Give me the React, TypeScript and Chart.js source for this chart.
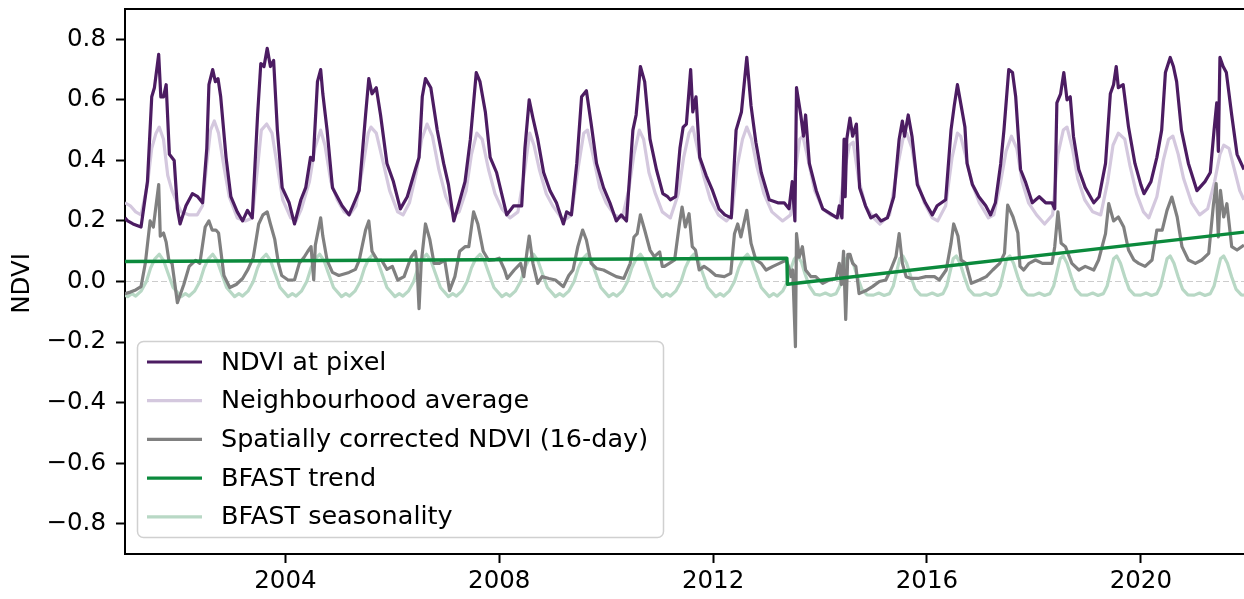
import { useEffect, useRef } from 'react';
import { Chart, registerables } from 'chart.js';

Chart.register(...registerables);

// ---- axis settings -------------------------------------------------------
const X_MIN = 2001.0;
const X_MAX = 2021.93;
const Y_MIN = -0.9;
const Y_MAX = 0.9;
const X_TICKS = [2004, 2008, 2012, 2016, 2020];
const Y_TICKS = [-0.8, -0.6, -0.4, -0.2, 0, 0.2, 0.4, 0.6, 0.8];

const SERIES_LABELS = [
  'NDVI at pixel',
  'Neighbourhood average',
  'Spatially corrected NDVI (16-day)',
  'BFAST trend',
  'BFAST seasonality',
];

// ---- series: [decimal year, NDVI] ------------------------------------------
const NDVI_PIXEL: [number, number][] = [
  [2001.0, 0.21], [2001.05, 0.2], [2001.15, 0.19], [2001.3, 0.18], [2001.42, 0.33], [2001.5, 0.61], [2001.55, 0.64],
  [2001.63, 0.75], [2001.67, 0.61], [2001.72, 0.61], [2001.77, 0.65], [2001.83, 0.42], [2001.92, 0.4], [2001.98, 0.24],
  [2002.03, 0.19], [2002.14, 0.25], [2002.26, 0.29], [2002.36, 0.28], [2002.45, 0.26], [2002.53, 0.44], [2002.57, 0.65],
  [2002.64, 0.7], [2002.69, 0.66], [2002.74, 0.67], [2002.79, 0.61], [2002.89, 0.41], [2002.98, 0.28], [2003.1, 0.23],
  [2003.2, 0.2], [2003.29, 0.235], [2003.38, 0.21], [2003.48, 0.55], [2003.54, 0.72], [2003.6, 0.71], [2003.66, 0.77],
  [2003.72, 0.71], [2003.78, 0.73], [2003.85, 0.5], [2003.94, 0.31], [2004.07, 0.26], [2004.17, 0.19], [2004.29, 0.27],
  [2004.38, 0.31], [2004.47, 0.41], [2004.52, 0.4], [2004.6, 0.66], [2004.66, 0.7], [2004.7, 0.62], [2004.78, 0.5],
  [2004.88, 0.31], [2004.97, 0.28], [2005.06, 0.25], [2005.19, 0.22], [2005.31, 0.27], [2005.38, 0.3], [2005.5, 0.55],
  [2005.56, 0.67], [2005.62, 0.62], [2005.7, 0.64], [2005.78, 0.55], [2005.9, 0.39], [2006.02, 0.33], [2006.15, 0.24],
  [2006.28, 0.28], [2006.43, 0.37], [2006.5, 0.41], [2006.56, 0.61], [2006.62, 0.67], [2006.72, 0.64], [2006.84, 0.5],
  [2006.96, 0.39], [2007.05, 0.32], [2007.15, 0.2], [2007.25, 0.26], [2007.36, 0.33], [2007.46, 0.47], [2007.57, 0.69],
  [2007.64, 0.66], [2007.74, 0.56], [2007.83, 0.41], [2007.95, 0.36], [2008.14, 0.22], [2008.27, 0.25], [2008.42, 0.25],
  [2008.48, 0.44], [2008.56, 0.6], [2008.63, 0.54], [2008.72, 0.47], [2008.83, 0.36], [2008.95, 0.3], [2009.07, 0.26],
  [2009.2, 0.19], [2009.26, 0.23], [2009.35, 0.22], [2009.45, 0.39], [2009.54, 0.61], [2009.63, 0.63], [2009.72, 0.52],
  [2009.82, 0.39], [2009.95, 0.31], [2010.07, 0.26], [2010.19, 0.2], [2010.28, 0.22], [2010.38, 0.2], [2010.5, 0.5],
  [2010.56, 0.55], [2010.64, 0.71], [2010.72, 0.66], [2010.82, 0.47], [2010.94, 0.37], [2011.06, 0.29], [2011.15, 0.28],
  [2011.2, 0.27], [2011.3, 0.28], [2011.38, 0.44], [2011.44, 0.51], [2011.5, 0.52], [2011.58, 0.7], [2011.62, 0.56],
  [2011.68, 0.61], [2011.75, 0.41], [2011.87, 0.35], [2011.99, 0.3], [2012.11, 0.24], [2012.22, 0.22], [2012.34, 0.21],
  [2012.43, 0.5], [2012.53, 0.56], [2012.63, 0.74], [2012.71, 0.58], [2012.8, 0.46], [2012.9, 0.36], [2013.05, 0.27],
  [2013.21, 0.26], [2013.33, 0.26], [2013.42, 0.24], [2013.48, 0.33], [2013.53, 0.2], [2013.56, 0.64], [2013.64, 0.55],
  [2013.69, 0.48], [2013.73, 0.55], [2013.8, 0.39], [2013.93, 0.3], [2014.05, 0.24], [2014.23, 0.22], [2014.32, 0.21],
  [2014.36, 0.25], [2014.41, 0.21], [2014.45, 0.47], [2014.47, 0.28], [2014.5, 0.47], [2014.56, 0.54], [2014.61, 0.48],
  [2014.68, 0.52], [2014.74, 0.31], [2014.85, 0.25], [2014.95, 0.21], [2015.05, 0.22], [2015.14, 0.2], [2015.26, 0.21],
  [2015.38, 0.28], [2015.48, 0.47], [2015.54, 0.53], [2015.58, 0.48], [2015.65, 0.55], [2015.72, 0.48], [2015.82, 0.32],
  [2015.97, 0.26], [2016.1, 0.22], [2016.19, 0.25], [2016.35, 0.27], [2016.45, 0.5], [2016.51, 0.58], [2016.57, 0.65],
  [2016.64, 0.58], [2016.71, 0.51], [2016.75, 0.39], [2016.85, 0.32], [2016.97, 0.28], [2017.1, 0.25], [2017.19, 0.22],
  [2017.28, 0.26], [2017.38, 0.39], [2017.44, 0.5], [2017.53, 0.7], [2017.6, 0.69], [2017.66, 0.61], [2017.75, 0.37],
  [2017.84, 0.33], [2017.97, 0.26], [2018.1, 0.28], [2018.22, 0.26], [2018.34, 0.26], [2018.39, 0.24], [2018.43, 0.59],
  [2018.5, 0.62], [2018.56, 0.69], [2018.62, 0.6], [2018.68, 0.61], [2018.74, 0.48], [2018.84, 0.37], [2018.96, 0.31],
  [2019.12, 0.26], [2019.22, 0.28], [2019.34, 0.39], [2019.43, 0.62], [2019.49, 0.65], [2019.54, 0.71], [2019.58, 0.64],
  [2019.67, 0.65], [2019.77, 0.51], [2019.89, 0.39], [2020.0, 0.32], [2020.06, 0.29], [2020.19, 0.33], [2020.3, 0.41],
  [2020.39, 0.5], [2020.46, 0.69], [2020.55, 0.74], [2020.61, 0.71], [2020.67, 0.66], [2020.76, 0.5], [2020.89, 0.39],
  [2021.05, 0.3], [2021.2, 0.33], [2021.3, 0.36], [2021.37, 0.5], [2021.42, 0.59], [2021.45, 0.43], [2021.48, 0.74],
  [2021.54, 0.71], [2021.6, 0.69], [2021.7, 0.55], [2021.8, 0.42], [2021.93, 0.37],
];

const NEIGHBOURHOOD_AVG: [number, number][] = [
  [2001.0, 0.26], [2001.1, 0.25], [2001.2, 0.23], [2001.3, 0.22], [2001.42, 0.32], [2001.5, 0.44], [2001.58, 0.49],
  [2001.64, 0.51], [2001.72, 0.47], [2001.8, 0.35], [2001.88, 0.3], [2001.97, 0.26], [2002.05, 0.23], [2002.2, 0.22],
  [2002.35, 0.22], [2002.45, 0.25], [2002.53, 0.39], [2002.6, 0.5], [2002.67, 0.53], [2002.75, 0.49], [2002.85, 0.38],
  [2002.95, 0.28], [2003.1, 0.21], [2003.25, 0.2], [2003.38, 0.21], [2003.47, 0.36], [2003.55, 0.5], [2003.65, 0.52],
  [2003.75, 0.49], [2003.85, 0.38], [2003.95, 0.27], [2004.1, 0.21], [2004.2, 0.2], [2004.3, 0.24], [2004.45, 0.33],
  [2004.55, 0.44], [2004.66, 0.5], [2004.74, 0.45], [2004.85, 0.33], [2004.97, 0.27], [2005.1, 0.23], [2005.2, 0.22],
  [2005.32, 0.25], [2005.45, 0.38], [2005.55, 0.49], [2005.6, 0.51], [2005.7, 0.49], [2005.82, 0.4], [2005.95, 0.3],
  [2006.1, 0.23], [2006.2, 0.22], [2006.32, 0.26], [2006.45, 0.36], [2006.55, 0.47], [2006.65, 0.52], [2006.75, 0.48],
  [2006.87, 0.37], [2007.0, 0.28], [2007.15, 0.22], [2007.25, 0.23], [2007.38, 0.3], [2007.48, 0.42], [2007.58, 0.49],
  [2007.68, 0.47], [2007.8, 0.37], [2007.92, 0.29], [2008.05, 0.24], [2008.2, 0.21], [2008.35, 0.23], [2008.47, 0.36],
  [2008.57, 0.49], [2008.65, 0.45], [2008.75, 0.37], [2008.88, 0.29], [2009.0, 0.25], [2009.2, 0.2], [2009.35, 0.22],
  [2009.48, 0.38], [2009.58, 0.49], [2009.65, 0.5], [2009.75, 0.42], [2009.88, 0.31], [2010.0, 0.26], [2010.15, 0.22],
  [2010.3, 0.21], [2010.42, 0.3], [2010.52, 0.42], [2010.62, 0.5], [2010.7, 0.47], [2010.8, 0.36], [2010.92, 0.29],
  [2011.05, 0.23], [2011.2, 0.21], [2011.35, 0.29], [2011.45, 0.41], [2011.55, 0.49], [2011.62, 0.51], [2011.72, 0.43],
  [2011.82, 0.35], [2011.95, 0.27], [2012.1, 0.22], [2012.25, 0.2], [2012.35, 0.22], [2012.45, 0.38], [2012.55, 0.47],
  [2012.63, 0.51], [2012.72, 0.47], [2012.82, 0.38], [2012.95, 0.29], [2013.1, 0.23], [2013.3, 0.2], [2013.45, 0.22],
  [2013.55, 0.38], [2013.62, 0.47], [2013.68, 0.48], [2013.78, 0.4], [2013.9, 0.3], [2014.05, 0.24], [2014.2, 0.22],
  [2014.35, 0.21], [2014.45, 0.36], [2014.55, 0.45], [2014.62, 0.46], [2014.72, 0.34], [2014.85, 0.25], [2015.0, 0.21],
  [2015.12, 0.19], [2015.3, 0.22], [2015.45, 0.38], [2015.55, 0.47], [2015.62, 0.49], [2015.72, 0.44], [2015.82, 0.33],
  [2015.95, 0.26], [2016.1, 0.21], [2016.2, 0.2], [2016.35, 0.25], [2016.47, 0.41], [2016.57, 0.49], [2016.63, 0.48],
  [2016.73, 0.41], [2016.85, 0.32], [2016.98, 0.26], [2017.15, 0.21], [2017.25, 0.22], [2017.38, 0.33], [2017.48, 0.43],
  [2017.58, 0.48], [2017.68, 0.44], [2017.78, 0.33], [2017.9, 0.26], [2018.05, 0.22], [2018.2, 0.19], [2018.35, 0.22],
  [2018.45, 0.42], [2018.55, 0.5], [2018.62, 0.51], [2018.72, 0.44], [2018.82, 0.34], [2018.95, 0.27], [2019.1, 0.23],
  [2019.25, 0.22], [2019.38, 0.33], [2019.48, 0.45], [2019.58, 0.49], [2019.7, 0.47], [2019.8, 0.38], [2019.92, 0.29],
  [2020.05, 0.23], [2020.15, 0.21], [2020.3, 0.28], [2020.42, 0.4], [2020.52, 0.47], [2020.6, 0.48], [2020.7, 0.42],
  [2020.8, 0.34], [2020.95, 0.26], [2021.1, 0.22], [2021.25, 0.24], [2021.38, 0.33], [2021.48, 0.42], [2021.55, 0.45],
  [2021.65, 0.44], [2021.75, 0.37], [2021.85, 0.3], [2021.93, 0.27],
];

const CORRECTED_NDVI: [number, number][] = [
  [2001.0, -0.04], [2001.1, -0.035], [2001.2, -0.028], [2001.3, -0.017], [2001.38, 0.06], [2001.47, 0.2], [2001.53, 0.18],
  [2001.63, 0.32], [2001.66, 0.15], [2001.72, 0.16], [2001.77, 0.13], [2001.82, 0.07], [2001.88, 0.06], [2001.98, -0.07],
  [2002.1, -0.01], [2002.2, 0.05], [2002.32, 0.07], [2002.4, 0.06], [2002.5, 0.18], [2002.57, 0.2], [2002.63, 0.17],
  [2002.7, 0.17], [2002.75, 0.16], [2002.85, 0.02], [2002.96, -0.02], [2003.08, -0.01], [2003.2, 0.01], [2003.3, 0.04],
  [2003.4, 0.08], [2003.5, 0.19], [2003.58, 0.22], [2003.66, 0.23], [2003.72, 0.19], [2003.8, 0.14], [2003.87, 0.06],
  [2003.93, 0.02], [2004.05, 0.005], [2004.17, 0.005], [2004.26, 0.06], [2004.35, 0.08], [2004.42, 0.1], [2004.48, 0.115],
  [2004.53, 0.005], [2004.56, 0.12], [2004.66, 0.21], [2004.7, 0.15], [2004.78, 0.07], [2004.88, 0.03], [2005.0, 0.02],
  [2005.19, 0.03], [2005.31, 0.04], [2005.38, 0.07], [2005.5, 0.17], [2005.56, 0.2], [2005.62, 0.1], [2005.72, 0.07],
  [2005.8, 0.07], [2005.9, 0.04], [2006.0, 0.05], [2006.1, 0.005], [2006.22, 0.016], [2006.35, 0.08], [2006.43, 0.1],
  [2006.46, 0.06], [2006.5, -0.09], [2006.54, 0.06], [2006.62, 0.19], [2006.7, 0.14], [2006.78, 0.06], [2006.88, 0.06],
  [2006.98, 0.07], [2007.07, -0.03], [2007.17, 0.016], [2007.26, 0.1], [2007.36, 0.115], [2007.43, 0.115], [2007.52, 0.23],
  [2007.6, 0.19], [2007.7, 0.1], [2007.8, 0.07], [2007.9, 0.071], [2008.0, 0.077], [2008.1, 0.038], [2008.15, 0.01],
  [2008.28, 0.038], [2008.4, 0.06], [2008.46, 0.016], [2008.52, 0.1], [2008.56, 0.15], [2008.63, 0.06], [2008.72, -0.006],
  [2008.8, 0.016], [2008.93, 0.01], [2009.05, 0.005], [2009.2, -0.017], [2009.3, 0.02], [2009.38, 0.038], [2009.47, 0.115],
  [2009.56, 0.17], [2009.63, 0.137], [2009.72, 0.06], [2009.82, 0.043], [2009.95, 0.038], [2010.07, 0.027], [2010.19, 0.016],
  [2010.33, 0.01], [2010.45, 0.06], [2010.52, 0.147], [2010.58, 0.158], [2010.64, 0.22], [2010.72, 0.17], [2010.82, 0.104],
  [2010.9, 0.082], [2011.0, 0.098], [2011.05, 0.05], [2011.09, 0.05], [2011.18, 0.06], [2011.28, 0.071], [2011.37, 0.19],
  [2011.42, 0.246], [2011.48, 0.18], [2011.55, 0.224], [2011.61, 0.115], [2011.67, 0.104], [2011.74, 0.038], [2011.83, 0.05],
  [2011.93, 0.038], [2012.05, 0.02], [2012.21, 0.016], [2012.33, 0.027], [2012.4, 0.158], [2012.46, 0.19], [2012.52, 0.147],
  [2012.63, 0.235], [2012.71, 0.126], [2012.8, 0.071], [2012.9, 0.06], [2012.99, 0.038], [2013.12, 0.05], [2013.24, 0.06],
  [2013.37, 0.071], [2013.43, 0.038], [2013.46, 0.016], [2013.49, 0.038], [2013.54, -0.215], [2013.56, 0.158], [2013.61, 0.08],
  [2013.67, 0.115], [2013.73, 0.038], [2013.83, 0.016], [2013.92, 0.016], [2014.05, -0.006], [2014.17, 0.005], [2014.3, 0.01],
  [2014.36, 0.06], [2014.4, -0.01], [2014.44, 0.1], [2014.48, -0.125], [2014.52, 0.09], [2014.56, 0.09], [2014.61, 0.06],
  [2014.67, 0.05], [2014.73, -0.04], [2014.86, -0.03], [2014.98, -0.017], [2015.11, 0.0], [2015.23, 0.005], [2015.32, 0.038],
  [2015.42, 0.082], [2015.48, 0.158], [2015.54, 0.06], [2015.61, 0.016], [2015.7, 0.01], [2015.83, 0.01], [2015.98, 0.016],
  [2016.14, 0.016], [2016.23, 0.005], [2016.36, 0.038], [2016.45, 0.126], [2016.5, 0.19], [2016.58, 0.15], [2016.64, 0.071],
  [2016.73, 0.06], [2016.83, -0.006], [2016.98, 0.005], [2017.11, 0.016], [2017.23, 0.038], [2017.36, 0.06], [2017.45, 0.093],
  [2017.51, 0.252], [2017.61, 0.213], [2017.7, 0.16], [2017.74, 0.05], [2017.81, 0.038], [2017.91, 0.06], [2018.03, 0.071],
  [2018.16, 0.06], [2018.34, 0.06], [2018.39, 0.115], [2018.45, 0.23], [2018.51, 0.126], [2018.59, 0.115], [2018.71, 0.06],
  [2018.84, 0.038], [2018.96, 0.05], [2019.12, 0.038], [2019.21, 0.071], [2019.34, 0.158], [2019.4, 0.257], [2019.49, 0.2],
  [2019.58, 0.213], [2019.68, 0.18], [2019.77, 0.104], [2019.87, 0.071], [2019.96, 0.06], [2020.08, 0.05], [2020.21, 0.071],
  [2020.3, 0.17], [2020.4, 0.17], [2020.49, 0.235], [2020.58, 0.279], [2020.68, 0.213], [2020.77, 0.115], [2020.89, 0.071],
  [2021.02, 0.06], [2021.14, 0.071], [2021.27, 0.093], [2021.36, 0.257], [2021.41, 0.323], [2021.45, 0.147], [2021.49, 0.301],
  [2021.55, 0.213], [2021.61, 0.257], [2021.7, 0.115], [2021.8, 0.104], [2021.93, 0.12],
];

// piecewise-linear trend with one break in mid-2013
const BFAST_TREND: [number, number][] = [
  [2001.0, 0.066], [2013.38, 0.077], [2013.39, -0.009], [2021.93, 0.163],
];

const BFAST_SEASONALITY: [number, number][] = [
  [2001.0, -0.045], [2001.05, -0.05], [2001.13, -0.04], [2001.2, -0.048], [2001.3, -0.032], [2001.4, 0.0], [2001.48, 0.045], [2001.56, 0.075], [2001.64, 0.09], [2001.72, 0.07], [2001.8, 0.03], [2001.9, -0.02],
  [2002.05, -0.05], [2002.13, -0.04], [2002.2, -0.048], [2002.3, -0.032], [2002.4, 0.0], [2002.48, 0.045], [2002.56, 0.075], [2002.64, 0.09], [2002.72, 0.07], [2002.8, 0.03], [2002.9, -0.02],
  [2003.05, -0.05], [2003.13, -0.04], [2003.2, -0.048], [2003.3, -0.032], [2003.4, 0.0], [2003.48, 0.045], [2003.56, 0.075], [2003.64, 0.09], [2003.72, 0.07], [2003.8, 0.03], [2003.9, -0.02],
  [2004.05, -0.05], [2004.13, -0.04], [2004.2, -0.048], [2004.3, -0.032], [2004.4, 0.0], [2004.48, 0.045], [2004.56, 0.075], [2004.64, 0.09], [2004.72, 0.07], [2004.8, 0.03], [2004.9, -0.02],
  [2005.05, -0.05], [2005.13, -0.04], [2005.2, -0.048], [2005.3, -0.032], [2005.4, 0.0], [2005.48, 0.045], [2005.56, 0.075], [2005.64, 0.09], [2005.72, 0.07], [2005.8, 0.03], [2005.9, -0.02],
  [2006.05, -0.05], [2006.13, -0.04], [2006.2, -0.048], [2006.3, -0.032], [2006.4, 0.0], [2006.48, 0.045], [2006.56, 0.075], [2006.64, 0.09], [2006.72, 0.07], [2006.8, 0.03], [2006.9, -0.02],
  [2007.05, -0.05], [2007.13, -0.04], [2007.2, -0.048], [2007.3, -0.032], [2007.4, 0.0], [2007.48, 0.045], [2007.56, 0.075], [2007.64, 0.09], [2007.72, 0.07], [2007.8, 0.03], [2007.9, -0.02],
  [2008.05, -0.05], [2008.13, -0.04], [2008.2, -0.048], [2008.3, -0.032], [2008.4, 0.0], [2008.48, 0.045], [2008.56, 0.075], [2008.64, 0.09], [2008.72, 0.07], [2008.8, 0.03], [2008.9, -0.02],
  [2009.05, -0.05], [2009.13, -0.04], [2009.2, -0.048], [2009.3, -0.032], [2009.4, 0.0], [2009.48, 0.045], [2009.56, 0.075], [2009.64, 0.09], [2009.72, 0.07], [2009.8, 0.03], [2009.9, -0.02],
  [2010.05, -0.05], [2010.13, -0.04], [2010.2, -0.048], [2010.3, -0.032], [2010.4, 0.0], [2010.48, 0.045], [2010.56, 0.075], [2010.64, 0.09], [2010.72, 0.07], [2010.8, 0.03], [2010.9, -0.02],
  [2011.05, -0.05], [2011.13, -0.04], [2011.2, -0.048], [2011.3, -0.032], [2011.4, 0.0], [2011.48, 0.045], [2011.56, 0.075], [2011.64, 0.09], [2011.72, 0.07], [2011.8, 0.03], [2011.9, -0.02],
  [2012.05, -0.05], [2012.13, -0.04], [2012.2, -0.048], [2012.3, -0.032], [2012.4, 0.0], [2012.48, 0.045], [2012.56, 0.075], [2012.64, 0.09], [2012.72, 0.07], [2012.8, 0.03], [2012.9, -0.02],
  [2013.05, -0.05], [2013.13, -0.04], [2013.2, -0.048], [2013.3, -0.032], [2013.38, -0.005], [2013.45, 0.04], [2013.52, 0.075], [2013.58, 0.085], [2013.65, 0.065], [2013.72, 0.025], [2013.8, -0.015], [2013.9, -0.042],
  [2014.0, -0.045], [2014.1, -0.038], [2014.2, -0.046], [2014.3, -0.04], [2014.37, -0.015], [2014.43, 0.03], [2014.49, 0.075], [2014.55, 0.084], [2014.62, 0.06], [2014.7, 0.015], [2014.78, -0.025], [2014.88, -0.044],
  [2015.0, -0.045], [2015.1, -0.038], [2015.2, -0.046], [2015.3, -0.04], [2015.37, -0.015], [2015.43, 0.03], [2015.49, 0.075], [2015.55, 0.084], [2015.62, 0.06], [2015.7, 0.015], [2015.78, -0.025], [2015.88, -0.044],
  [2016.0, -0.045], [2016.1, -0.038], [2016.2, -0.046], [2016.3, -0.04], [2016.37, -0.015], [2016.43, 0.03], [2016.49, 0.075], [2016.55, 0.084], [2016.62, 0.06], [2016.7, 0.015], [2016.78, -0.025], [2016.88, -0.044],
  [2017.0, -0.045], [2017.1, -0.038], [2017.2, -0.046], [2017.3, -0.04], [2017.37, -0.015], [2017.43, 0.03], [2017.49, 0.075], [2017.55, 0.084], [2017.62, 0.06], [2017.7, 0.015], [2017.78, -0.025], [2017.88, -0.044],
  [2018.0, -0.045], [2018.1, -0.038], [2018.2, -0.046], [2018.3, -0.04], [2018.37, -0.015], [2018.43, 0.03], [2018.49, 0.075], [2018.55, 0.084], [2018.62, 0.06], [2018.7, 0.015], [2018.78, -0.025], [2018.88, -0.044],
  [2019.0, -0.045], [2019.1, -0.038], [2019.2, -0.046], [2019.3, -0.04], [2019.37, -0.015], [2019.43, 0.03], [2019.49, 0.075], [2019.55, 0.084], [2019.62, 0.06], [2019.7, 0.015], [2019.78, -0.025], [2019.88, -0.044],
  [2020.0, -0.045], [2020.1, -0.038], [2020.2, -0.046], [2020.3, -0.04], [2020.37, -0.015], [2020.43, 0.03], [2020.49, 0.075], [2020.55, 0.084], [2020.62, 0.06], [2020.7, 0.015], [2020.78, -0.025], [2020.88, -0.044],
  [2021.0, -0.045], [2021.1, -0.038], [2021.2, -0.046], [2021.3, -0.04], [2021.37, -0.015], [2021.43, 0.03], [2021.49, 0.075], [2021.55, 0.084], [2021.62, 0.06], [2021.7, 0.015], [2021.78, -0.025], [2021.88, -0.044],
  [2021.93, -0.045],
];

// ---- styling ------------------------------------------------------------------
const FONT = "'DejaVu Sans', 'Noto Sans', sans-serif";
const COLORS = ['#4c1c62', '#d4c8de', '#808080', '#0b8a3c', '#b8d8c5'];
const WIDTHS = [3.2, 3.2, 3.2, 3.4, 3.2];
// drawing order: lower number is painted on top
const Z_ORDER = [1, 4, 3, 2, 5];

const SERIES = [NDVI_PIXEL, NEIGHBOURHOOD_AVG, CORRECTED_NDVI, BFAST_TREND, BFAST_SEASONALITY];

const formatY = (v: number) => {
  const s = Math.abs(v).toFixed(1);
  return v < -1e-9 ? '\u2212' + s : s;
};

const decorPlugin = {
  id: 'decor',
  beforeDatasetsDraw(chart: any) {
    const { ctx, chartArea, scales } = chart;
    const y0 = scales.y.getPixelForValue(0);
    ctx.save();
    ctx.beginPath();
    ctx.setLineDash([6, 3]);
    ctx.strokeStyle = 'rgba(0,0,0,0.2)';
    ctx.lineWidth = 1.2;
    ctx.moveTo(chartArea.left, y0);
    ctx.lineTo(chartArea.right, y0);
    ctx.stroke();
    ctx.restore();
  },
  afterDraw(chart: any) {
    const { ctx, chartArea } = chart;
    ctx.save();

    // top spine
    ctx.strokeStyle = '#000';
    ctx.lineWidth = 2;
    ctx.beginPath();
    ctx.moveTo(chartArea.left - 1, chartArea.top);
    ctx.lineTo(chartArea.right, chartArea.top);
    ctx.stroke();

    // y-axis title
    ctx.fillStyle = '#000';
    ctx.font = `24.5px ${FONT}`;
    ctx.textAlign = 'center';
    ctx.textBaseline = 'middle';
    ctx.save();
    ctx.translate(22.5, (chartArea.top + chartArea.bottom) / 2 + 2);
    ctx.rotate(-Math.PI / 2);
    ctx.fillText('NDVI', 0, 0);
    ctx.restore();

    // legend box
    const bx = 137.5, by = 341.5, bw = 526, bh = 196;
    ctx.beginPath();
    ctx.roundRect(bx, by, bw, bh, 6);
    ctx.fillStyle = 'rgba(255,255,255,0.8)';
    ctx.fill();
    ctx.strokeStyle = '#d0d0d0';
    ctx.lineWidth = 1.5;
    ctx.stroke();

    ctx.font = `25.5px ${FONT}`;
    ctx.textAlign = 'left';
    ctx.textBaseline = 'middle';
    SERIES_LABELS.forEach((label, i) => {
      const ry = 362 + i * 38.7;
      ctx.beginPath();
      ctx.strokeStyle = COLORS[i];
      ctx.lineWidth = WIDTHS[i];
      ctx.moveTo(147, ry);
      ctx.lineTo(202, ry);
      ctx.stroke();
      ctx.fillStyle = '#000';
      ctx.fillText(label, 221, ry + 1);
    });
    ctx.restore();
  },
};

export default function App() {
  const canvasRef = useRef<HTMLCanvasElement | null>(null);

  useEffect(() => {
    const canvas = canvasRef.current;
    if (!canvas) return;

    const datasets = SERIES.map((series, i) => ({
      label: SERIES_LABELS[i],
      data: series.map(([x, y]) => ({ x, y })),
      borderColor: COLORS[i],
      backgroundColor: COLORS[i],
      borderWidth: WIDTHS[i],
      pointRadius: 0,
      tension: 0,
      fill: false,
      order: Z_ORDER[i],
      borderJoinStyle: 'round' as const,
    }));

    const chart = new Chart(canvas, {
      type: 'line',
      data: { datasets },
      options: {
        responsive: false,
        animation: false,
        devicePixelRatio: 1,
        parsing: false,
        normalized: true,
        layout: { padding: { top: 9, right: 0, bottom: 0, left: 0 } },
        plugins: {
          legend: { display: false },
          tooltip: { enabled: false },
        },
        scales: {
          x: {
            type: 'linear',
            min: X_MIN,
            max: X_MAX,
            afterBuildTicks: (scale: any) => {
              scale.ticks = X_TICKS.map((v) => ({ value: v }));
            },
            afterFit: (scale: any) => {
              scale.height = 45;
              scale.paddingLeft = 0;
              scale.paddingRight = 0;
            },
            grid: {
              display: true,
              drawOnChartArea: false,
              drawTicks: true,
              tickLength: 9,
              tickWidth: 2,
              tickColor: '#000',
            },
            border: { display: true, color: '#000', width: 2 },
            ticks: {
              autoSkip: false,
              maxRotation: 0,
              padding: 4,
              color: '#000',
              font: { family: FONT, size: 24.5 },
              callback: (v: any) => String(v),
            },
          },
          y: {
            type: 'linear',
            min: Y_MIN,
            max: Y_MAX,
            afterBuildTicks: (scale: any) => {
              scale.ticks = Y_TICKS.map((v) => ({ value: v }));
            },
            afterFit: (scale: any) => {
              scale.width = 125;
              scale.paddingTop = 0;
              scale.paddingBottom = 0;
            },
            grid: {
              display: true,
              drawOnChartArea: false,
              drawTicks: true,
              tickLength: 9,
              tickWidth: 2,
              tickColor: '#000',
            },
            border: { display: true, color: '#000', width: 2 },
            ticks: {
              padding: 10,
              color: '#000',
              font: { family: FONT, size: 24.5 },
              callback: (v: any) => formatY(Number(v)),
            },
          },
        },
      },
      plugins: [decorPlugin],
    });

    return () => chart.destroy();
  }, []);

  return (
    <div style={{ position: 'fixed', left: 0, top: 0, width: 1244, height: 599, background: '#fff' }}>
      <canvas ref={canvasRef} width={1244} height={599} style={{ display: 'block' }} />
    </div>
  );
}
